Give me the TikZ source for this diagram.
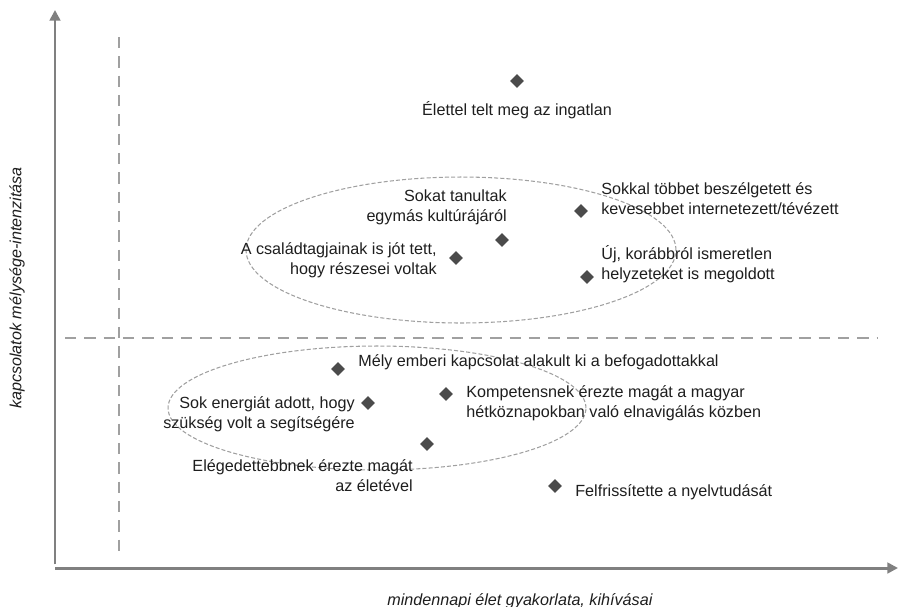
\documentclass[tikz,border=0pt]{standalone}
\usepackage{fontspec}
\setmainfont{Liberation Sans}
\usetikzlibrary{arrows.meta,shapes.geometric}
\definecolor{axisgray}{RGB}{128,128,128}
\definecolor{dashgray}{RGB}{160,160,160}
\definecolor{markgray}{RGB}{75,75,75}
\definecolor{txtgray}{RGB}{30,30,30}
\tikzset{
  axis/.style={line width=1.7pt, draw=axisgray, -{Triangle[length=6pt,width=6pt]}},
  divider/.style={line width=1.4pt, draw=dashgray, dash pattern=on 6.5pt off 4.5pt},
  cluster/.style={line width=0.6pt, draw=dashgray, dash pattern=on 2.3pt off 1.2pt},
  point/.style={diamond, fill=markgray, inner sep=0pt, minimum size=8pt},
  lbl/.style={text=txtgray, font=\fontsize{9.2}{11.3}\selectfont, inner sep=0pt},
  axislbl/.style={text=txtgray, font=\fontsize{9.2}{11.3}\selectfont\itshape, inner sep=0pt},
}
\begin{document}
\begin{tikzpicture}[x=0.02cm, y=-0.02cm]
  \useasboundingbox (0,0) rectangle (899,606);
  % axes
  \coordinate (origin) at (55,568);
  \coordinate (ytop) at (55,10);
  \coordinate (xend) at (898,568);
  \draw[axis] ([yshift=2pt]origin) -- (ytop);
  \draw[axis] (origin) -- (xend);
  \node[axislbl, rotate=90] (ylab) at (17,288) {kapcsolatok mélysége-intenzitása};
  \node[axislbl, anchor=west] (xlab) at (387,601) {mindennapi élet gyakorlata, kihívásai};
  % quadrant lines
  \draw[divider] (119,37) -- (119,558);
  \draw[divider] (65,338) -- (877,338);
  % clusters
  \draw[cluster] (461,250) ellipse [x radius=4.3cm, y radius=1.46cm];
  \draw[cluster] (377,408) ellipse [x radius=4.18cm, y radius=1.24cm];
  % points
  \node[point] (m1) at (517,81) {};
  \node[point] (m2) at (581,211) {};
  \node[point] (m3) at (502,240) {};
  \node[point] (m4) at (456,258) {};
  \node[point] (m5) at (587,277) {};
  \node[point] (m6) at (338,369) {};
  \node[point] (m7) at (446,394) {};
  \node[point] (m8) at (368,403) {};
  \node[point] (m9) at (427,444) {};
  \node[point] (m10) at (555,486) {};
  % labels
  \node[lbl] (l1) at (517,110) {Élettel telt meg az ingatlan};
  \node[lbl, anchor=west, align=left] (l2) at (601,199) {Sokkal többet beszélgetett és\\kevesebbet internetezett/tévézett};
  \node[lbl, anchor=east, align=right] (l3) at (507,207) {Sokat tanultak\\egymás kultúrájáról};
  \node[lbl, anchor=east, align=right] (l4) at (437,260) {A családtagjainak is jót tett,\\hogy részesei voltak};
  \node[lbl, anchor=west, align=left] (l5) at (601,264) {Új, korábbról ismeretlen\\helyzeteket is megoldott};
  \node[lbl, anchor=west] (l6) at (358,362) {Mély emberi kapcsolat alakult ki a befogadottakkal};
  \node[lbl, anchor=west, align=left] (l7) at (466,403) {Kompetensnek érezte magát a magyar\\hétköznapokban való elnavigálás közben};
  \node[lbl, anchor=east, align=right] (l8) at (355,414) {Sok energiát adott, hogy\\szükség volt a segítségére};
  \node[lbl, anchor=east, align=right] (l9) at (413,476) {Elégedettebbnek érezte magát\\az életével};
  \node[lbl, anchor=west] (l10) at (575,492) {Felfrissítette a nyelvtudását};
\end{tikzpicture}
\end{document}
